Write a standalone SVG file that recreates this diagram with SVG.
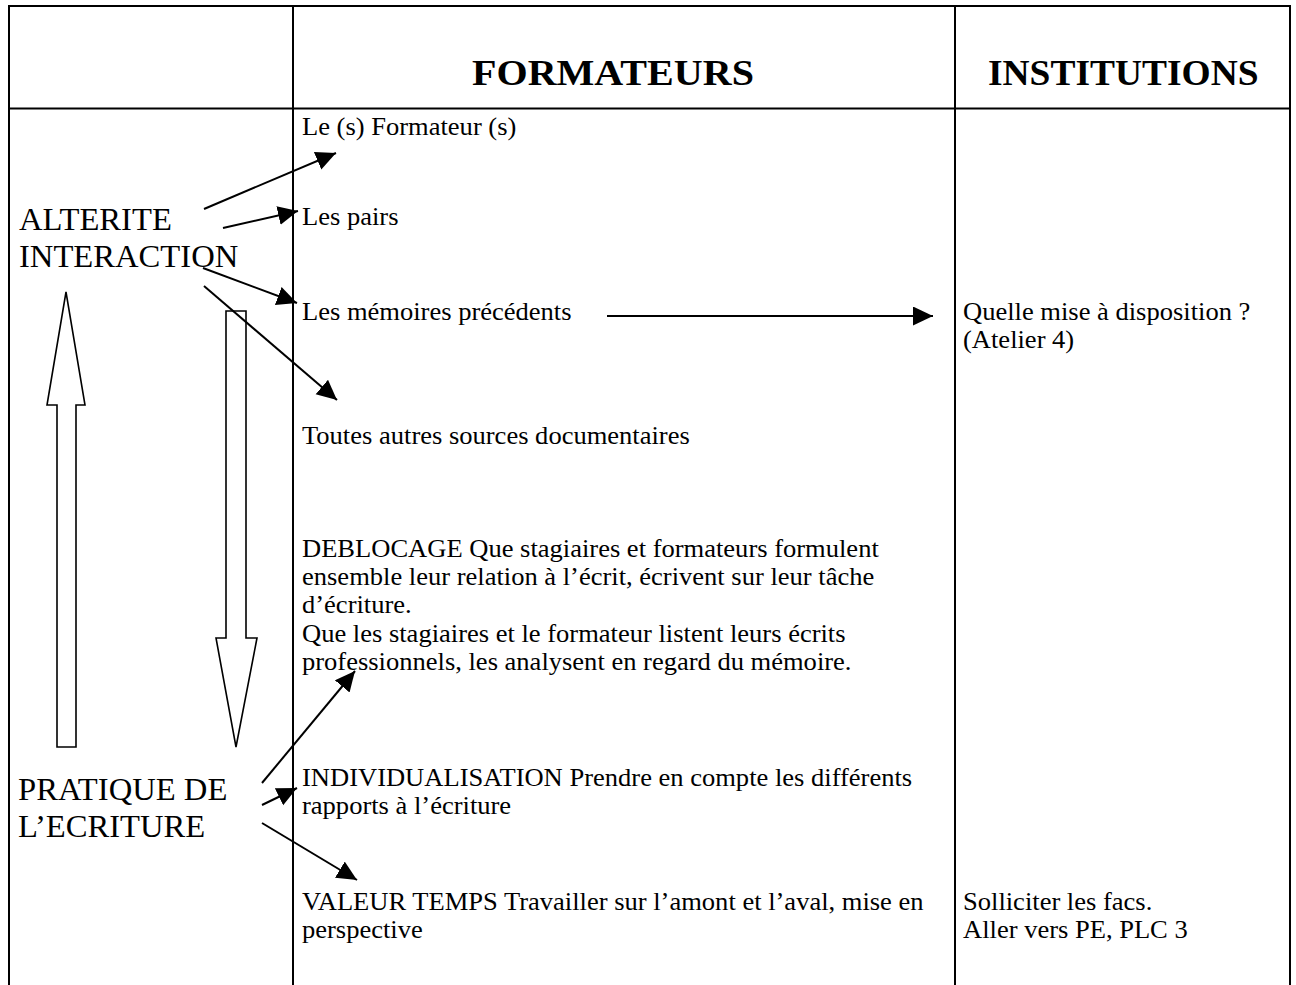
<svg xmlns="http://www.w3.org/2000/svg" width="1296" height="985" viewBox="0 0 1296 985">
<style>
.grid{stroke:#000;stroke-width:2;fill:none}
.t{font-family:"Liberation Serif","Times New Roman",serif;fill:#000}
.body{font-size:24.8px}
.side{font-size:30.5px}
.head{font-size:35px;font-weight:bold}
.con{stroke:#000;stroke-width:2;fill:none;marker-end:url(#ah)}
.hollow{stroke:#000;stroke-width:1.6;fill:#fff}
</style>
<defs>
<marker id="ah" markerUnits="userSpaceOnUse" markerWidth="22" markerHeight="20" refX="20" refY="9.5" orient="auto">
<path d="M0,0 L20,9.5 L0,19 z" fill="#000"/>
</marker>
</defs>
<rect width="1296" height="985" fill="#fff"/>
<g id="table">
<path class="grid" d="M9,985 V6 H1290 V985 M293,6 V985 M955,6 V985 M9,108.5 H1290"/>
</g>
<g id="headers">
<text class="t head" transform="matrix(1.145 0 0 1 472 85)">FORMATEURS</text>
<text class="t head" transform="matrix(1.07 0 0 1 988 85)">INSTITUTIONS</text>
</g>
<g id="node-alterite">
<text class="t side" transform="matrix(1.07 0 0 1 19 230)">ALTERITE</text>
<text class="t side" transform="matrix(1.07 0 0 1 19 267)">INTERACTION</text>
</g>
<g id="node-pratique">
<text class="t side" transform="matrix(1.07 0 0 1 18 800)">PRATIQUE DE</text>
<text class="t side" transform="matrix(1.07 0 0 1 18 837)">L’ECRITURE</text>
</g>
<g id="node-formateurs">
<text class="t body" transform="matrix(1.07 0 0 1 302 135)">Le (s) Formateur (s)</text>
</g>
<g id="node-pairs">
<text class="t body" transform="matrix(1.07 0 0 1 302 225)">Les pairs</text>
</g>
<g id="node-memoires">
<text class="t body" transform="matrix(1.07 0 0 1 302 320)">Les mémoires précédents</text>
</g>
<g id="node-sources">
<text class="t body" transform="matrix(1.07 0 0 1 302 444)">Toutes autres sources documentaires</text>
</g>
<g id="node-deblocage">
<text class="t body" transform="matrix(1.07 0 0 1 302 557)">DEBLOCAGE Que stagiaires et formateurs formulent</text>
<text class="t body" transform="matrix(1.07 0 0 1 302 585)">ensemble leur relation à l’écrit, écrivent sur leur tâche</text>
<text class="t body" transform="matrix(1.07 0 0 1 302 613)">d’écriture.</text>
<text class="t body" transform="matrix(1.07 0 0 1 302 642)">Que les stagiaires et le formateur listent leurs écrits</text>
<text class="t body" transform="matrix(1.07 0 0 1 302 670)">professionnels, les analysent en regard du mémoire.</text>
</g>
<g id="node-individualisation">
<text class="t body" transform="matrix(1.07 0 0 1 302 786)">INDIVIDUALISATION Prendre en compte les différents</text>
<text class="t body" transform="matrix(1.07 0 0 1 302 814)">rapports à l’écriture</text>
</g>
<g id="node-valeur">
<text class="t body" transform="matrix(1.07 0 0 1 302 910)">VALEUR TEMPS Travailler sur l’amont et l’aval, mise en</text>
<text class="t body" transform="matrix(1.07 0 0 1 302 938)">perspective</text>
</g>
<g id="node-mise">
<text class="t body" transform="matrix(1.07 0 0 1 963 320)">Quelle mise à disposition ?</text>
<text class="t body" transform="matrix(1.07 0 0 1 963 348)">(Atelier 4)</text>
</g>
<g id="node-facs">
<text class="t body" transform="matrix(1.07 0 0 1 963 910)">Solliciter les facs.</text>
<text class="t body" transform="matrix(1.07 0 0 1 963 938)">Aller vers PE, PLC 3</text>
</g>
<g id="connectors">
<path class="hollow" d="M66,292 L85,405 L76,405 L76,747 L57,747 L57,405 L47,405 Z"/>
<path class="hollow" d="M226,311 L246,311 L246,638 L257,638 L236,747 L216,638 L226,638 Z"/>
<line class="con" x1="204" y1="209" x2="336" y2="153"/>
<line class="con" x1="223" y1="228" x2="298" y2="211"/>
<line class="con" x1="203" y1="268" x2="297" y2="303"/>
<line class="con" x1="204" y1="286" x2="337" y2="400"/>
<line class="con" x1="607" y1="316" x2="933" y2="316"/>
<line class="con" x1="262" y1="783" x2="355" y2="671"/>
<line class="con" x1="262" y1="805" x2="297" y2="788"/>
<line class="con" x1="262" y1="823" x2="357" y2="880"/>
</g>
</svg>
